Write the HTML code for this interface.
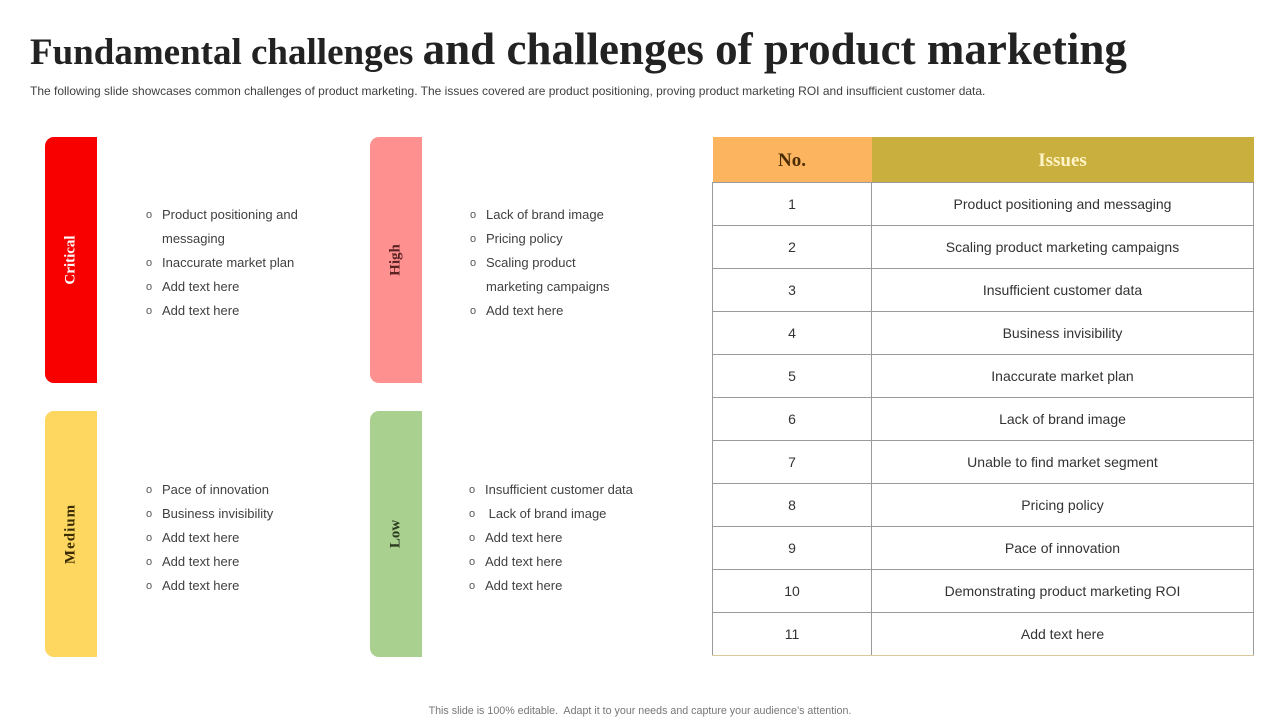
<!DOCTYPE html>
<html>
<head>
<meta charset="utf-8">
<style>
  html, body { margin:0; padding:0; }
  body { width:1280px; height:720px; position:relative; background:#fff; overflow:hidden; font-family:"Liberation Sans", Arial, sans-serif; }
  .abs { position:absolute; }
  .title { left:30px; top:23px; white-space:nowrap; font-family:"Liberation Serif", serif; font-weight:bold; color:#222; line-height:52px; }
  .title .a { font-size:37px; }
  .title .b { font-size:45px; }
  .sub { left:30px; top:84px; font-size:12px; color:#404040; white-space:nowrap; line-height:14px; }
  .bar { position:absolute; width:52px; height:246px; border-radius:9px 0 0 9px; }
  .bar span { position:absolute; left:50%; top:50%; transform:translate(-50%,-50%) rotate(-90deg); font-family:"Liberation Serif", serif; font-weight:bold; font-size:15px; white-space:nowrap; }
  .list { position:absolute; font-size:13px; color:#404040; line-height:24px; }
  .list .li { position:relative; padding-left:16px; white-space:nowrap; }
  .list .li::before { content:"o"; position:absolute; left:0; top:0; font-size:11px; color:#555; }
  .list .li.nb::before { content:""; }
  table { position:absolute; left:712px; top:137px; border-collapse:collapse; width:542px; }
  td, th { height:42px; padding:0; text-align:center; font-size:14px; color:#333; }
  td { border:1.5px solid #9a9a9a; }
  th { height:43px; font-family:"Liberation Serif", serif; font-weight:bold; font-size:19px; padding-top:2px; }
  th.no { background:#FDB45F; color:#4a2c05; width:159px; }
  th.is { background:#C9AF3D; color:#FFF4C8; }
  tr:last-child td { border-bottom:1.5px solid #d9c89a; }
  .foot { left:0; width:1280px; top:705px; text-align:center; font-size:10.7px; color:#777; }
</style>
</head>
<body>
  <div class="abs title"><span class="a">Fundamental challenges </span><span class="b">and challenges of product marketing</span></div>
  <div class="abs sub">The following slide showcases common challenges of product marketing. The issues covered are product positioning, proving product marketing ROI and insufficient customer data.</div>

  <div class="bar" style="left:45px; top:137px; background:#F90000;"><span style="color:#fff;">Critical</span></div>
  <div class="bar" style="left:370px; top:137px; background:#FE9090;"><span style="color:#5a2222;">High</span></div>
  <div class="bar" style="left:45px; top:411px; background:#FED760;"><span style="color:#3a2c00; letter-spacing:1px;">Medium</span></div>
  <div class="bar" style="left:370px; top:411px; background:#A9D08E;"><span style="color:#2c3a20;">Low</span></div>

  <div class="list" style="left:146px; top:203px;">
    <div class="li">Product positioning and</div>
    <div class="li nb">messaging</div>
    <div class="li">Inaccurate market plan</div>
    <div class="li">Add text here</div>
    <div class="li">Add text here</div>
  </div>
  <div class="list" style="left:470px; top:203px;">
    <div class="li">Lack of brand image</div>
    <div class="li">Pricing policy</div>
    <div class="li">Scaling product</div>
    <div class="li nb">marketing campaigns</div>
    <div class="li">Add text here</div>
  </div>
  <div class="list" style="left:146px; top:478px;">
    <div class="li">Pace of innovation</div>
    <div class="li">Business invisibility</div>
    <div class="li">Add text here</div>
    <div class="li">Add text here</div>
    <div class="li">Add text here</div>
  </div>
  <div class="list" style="left:469px; top:478px;">
    <div class="li">Insufficient customer data</div>
    <div class="li">&nbsp;Lack of brand image</div>
    <div class="li">Add text here</div>
    <div class="li">Add text here</div>
    <div class="li">Add text here</div>
  </div>

  <table>
    <tr><th class="no">No.</th><th class="is">Issues</th></tr>
    <tr><td>1</td><td>Product positioning and messaging</td></tr>
    <tr><td>2</td><td>Scaling product marketing campaigns</td></tr>
    <tr><td>3</td><td>Insufficient customer data</td></tr>
    <tr><td>4</td><td>Business invisibility</td></tr>
    <tr><td>5</td><td>Inaccurate market plan</td></tr>
    <tr><td>6</td><td>Lack of brand image</td></tr>
    <tr><td>7</td><td>Unable to find market segment</td></tr>
    <tr><td>8</td><td>Pricing policy</td></tr>
    <tr><td>9</td><td>Pace of innovation</td></tr>
    <tr><td>10</td><td>Demonstrating product marketing ROI</td></tr>
    <tr><td>11</td><td>Add text here</td></tr>
  </table>

  <div class="abs foot">This slide is 100% editable.&nbsp; Adapt it to your needs and capture your audience’s attention.</div>
</body>
</html>
